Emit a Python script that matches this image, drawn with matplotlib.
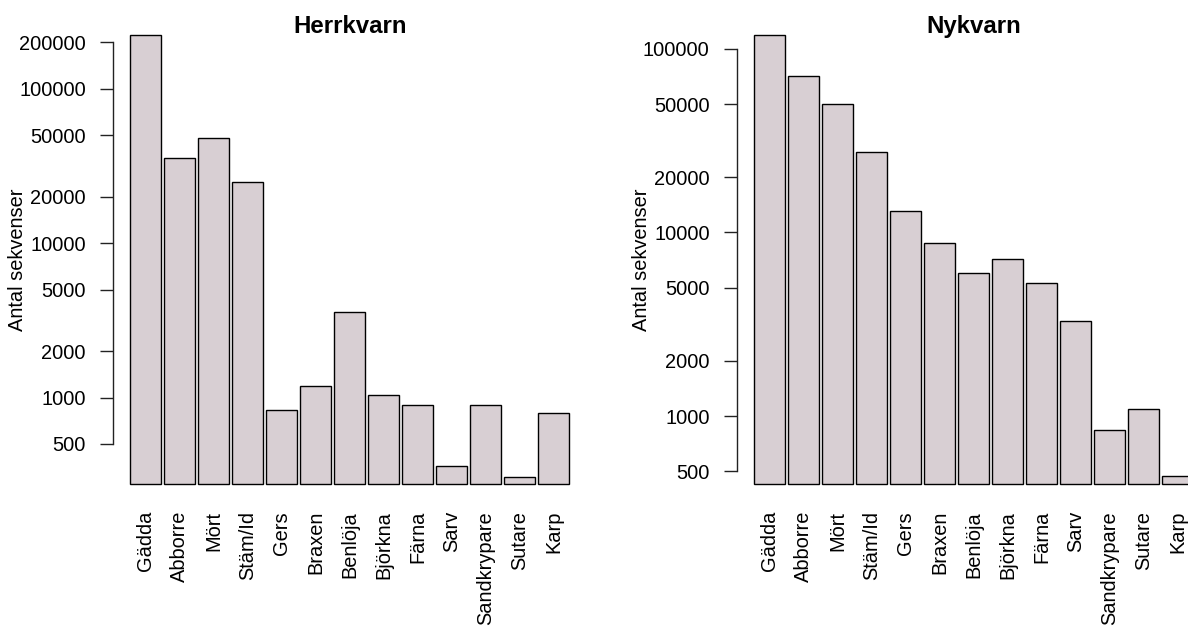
import numpy as np
import matplotlib
matplotlib.use("Agg")
import matplotlib.pyplot as plt
from matplotlib.ticker import FixedLocator, FixedFormatter, NullLocator

plt.rcParams['font.family'] = ['Liberation Sans', 'DejaVu Sans']

species = ['Gädda', 'Abborre', 'Mört', 'Stäm/Id', 'Gers', 'Braxen', 'Benlöja',
           'Björkna', 'Färna', 'Sarv', 'Sandkrypare', 'Sutare', 'Karp']

herrkvarn = [224000, 35900, 48000, 25100, 832, 1190, 3580,
             1035, 892, 360, 899, 304, 790]
nykvarn = [119200, 71300, 50000, 27500, 13080, 8790, 6010,
           7130, 5305, 3280, 839, 1096, 472]

herr_ticks = [500, 1000, 2000, 5000, 10000, 20000, 50000, 100000, 200000]
ny_ticks = [500, 1000, 2000, 5000, 10000, 20000, 50000, 100000]

bar_fill = '#d8cfd3'
fs = 14.4


def logbar(ax, vals, ticks, title):
    vals = np.asarray(vals, dtype=float)
    n = len(vals)
    space, width = 0.1, 1.0
    left = space + np.arange(n) * (width + space)
    centers = left + width / 2
    # bars start just below the smallest value, like barplot(log="y")
    base = 0.9 * vals.min()
    ax.bar(centers, vals - base, bottom=base, width=width,
           color=bar_fill, edgecolor='black', linewidth=1.0)
    ax.set_yscale('log')

    lo, hi = np.log10(base), np.log10(vals.max())
    ext = 0.04 * (hi - lo)
    ax.set_ylim(10 ** (lo - ext), 10 ** (hi + ext))
    x0, x1 = left[0], left[-1] + width
    xext = 0.04 * (x1 - x0)
    ax.set_xlim(x0 - xext, x1 + xext)

    ax.yaxis.set_major_locator(FixedLocator(ticks))
    ax.yaxis.set_major_formatter(FixedFormatter([str(t) for t in ticks]))
    ax.yaxis.set_minor_locator(NullLocator())
    ax.tick_params(axis='y', length=9.4, width=1.0, pad=10, labelsize=fs,
                   color='#222222')

    ax.set_xticks(centers)
    ax.set_xticklabels(species, rotation=90, fontsize=fs, va='top')
    ax.tick_params(axis='x', length=0, pad=6.2)

    for s in ['top', 'right', 'bottom']:
        ax.spines[s].set_visible(False)
    ax.spines['left'].set_bounds(ticks[0], ticks[-1])
    ax.spines['left'].set_linewidth(1.0)
    ax.spines['left'].set_color('#222222')

    ax.set_ylabel('Antal sekvenser', fontsize=fs)
    ax.yaxis.set_label_coords(-0.181, 0.5)
    ax.text(0.5, 0.967, title, transform=ax.transAxes, ha='center',
            va='baseline', fontsize=17.3, fontweight='bold')


fig = plt.figure(figsize=(11.88, 6.29), dpi=100)
ax1 = fig.add_axes([0.0949, 0.2013, 0.3989, 0.7719])
ax2 = fig.add_axes([0.6201, 0.2013, 0.3989, 0.7719])

logbar(ax1, herrkvarn, herr_ticks, 'Herrkvarn')
logbar(ax2, nykvarn, ny_ticks, 'Nykvarn')

fig.savefig('out.png', dpi=100)
